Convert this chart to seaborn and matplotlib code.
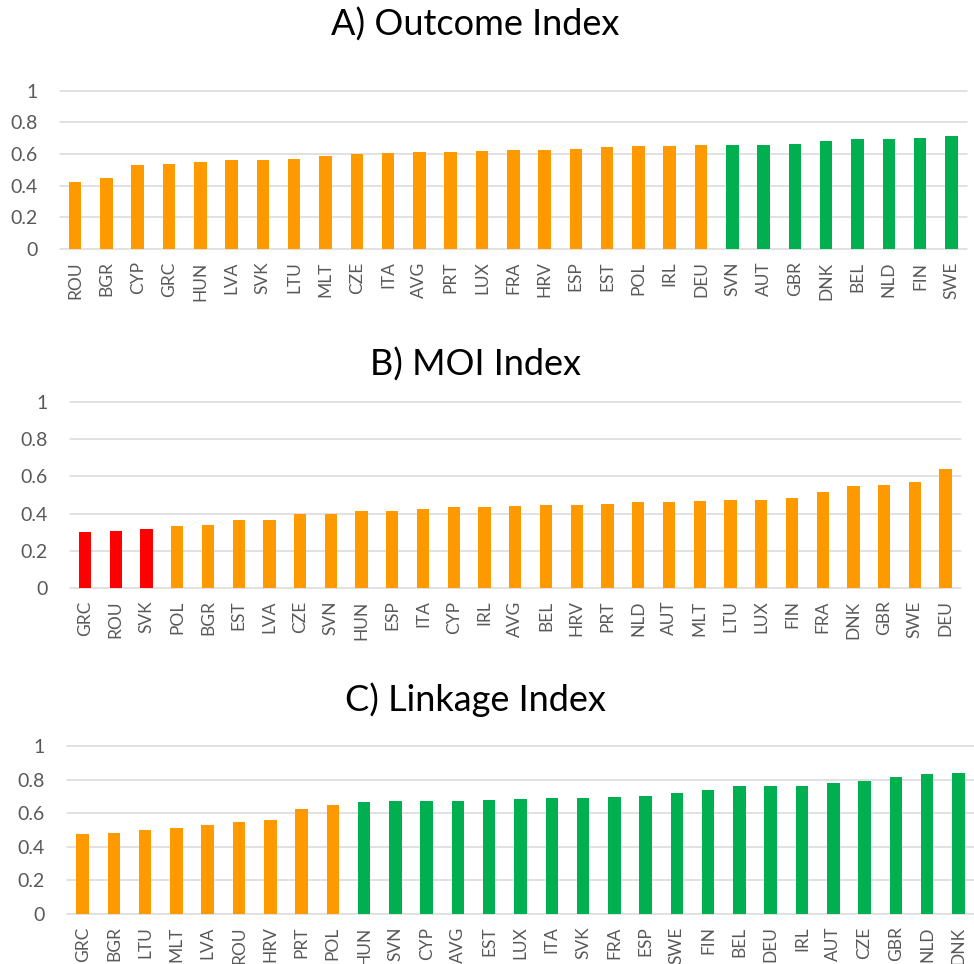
import matplotlib
matplotlib.use("Agg")
import matplotlib.pyplot as plt
import seaborn as sns
import pandas as pd

sns.set_theme(style="white")
plt.rcParams['font.family'] = ['Lato', 'DejaVu Sans']

# ---------------- data ----------------
outcome_countries = ["ROU", "BGR", "CYP", "GRC", "HUN", "LVA", "SVK", "LTU", "MLT", "CZE",
                     "ITA", "AVG", "PRT", "LUX", "FRA", "HRV", "ESP", "EST", "POL", "IRL",
                     "DEU", "SVN", "AUT", "GBR", "DNK", "BEL", "NLD", "FIN", "SWE"]
outcome_values = [0.425, 0.446, 0.528, 0.539, 0.549, 0.562, 0.564, 0.568, 0.589, 0.598,
                  0.606, 0.613, 0.613, 0.621, 0.623, 0.627, 0.634, 0.644, 0.648, 0.651,
                  0.657, 0.659, 0.659, 0.663, 0.680, 0.693, 0.693, 0.699, 0.712]
outcome_tier = ["mid"] * 21 + ["high"] * 8

moi_countries = ["GRC", "ROU", "SVK", "POL", "BGR", "EST", "LVA", "CZE", "SVN", "HUN",
                 "ESP", "ITA", "CYP", "IRL", "AVG", "BEL", "HRV", "PRT", "NLD", "AUT",
                 "MLT", "LTU", "LUX", "FIN", "FRA", "DNK", "GBR", "SWE", "DEU"]
moi_values = [0.299, 0.306, 0.315, 0.335, 0.341, 0.364, 0.366, 0.398, 0.400, 0.412,
              0.416, 0.423, 0.434, 0.435, 0.439, 0.446, 0.448, 0.452, 0.461, 0.464,
              0.468, 0.475, 0.475, 0.482, 0.518, 0.548, 0.552, 0.570, 0.638]
moi_tier = ["low"] * 3 + ["mid"] * 26

linkage_countries = ["GRC", "BGR", "LTU", "MLT", "LVA", "ROU", "HRV", "PRT", "POL", "HUN",
                     "SVN", "CYP", "AVG", "EST", "LUX", "ITA", "SVK", "FRA", "ESP", "SWE",
                     "FIN", "BEL", "DEU", "IRL", "AUT", "CZE", "GBR", "NLD", "DNK"]
linkage_values = [0.476, 0.482, 0.500, 0.512, 0.530, 0.548, 0.562, 0.627, 0.649, 0.665,
                  0.671, 0.671, 0.673, 0.681, 0.687, 0.688, 0.692, 0.694, 0.702, 0.720,
                  0.738, 0.764, 0.764, 0.764, 0.782, 0.792, 0.813, 0.835, 0.837]
linkage_tier = ["mid"] * 9 + ["high"] * 20

titles = ["A) Outcome Index", "B) MOI Index", "C) Linkage Index"]
y_ticks = [0, 0.2, 0.4, 0.6, 0.8, 1.0]
y_tick_labels = ["0", "0.2", "0.4", "0.6", "0.8", "1"]

palette = {"low": "#FF0000", "mid": "#FF9900", "high": "#00B050"}

# ---------------- layout ----------------
W, H = 974, 964
fig = plt.figure(figsize=(W / 100, H / 100), dpi=100)

# (left px, right px, top px, bottom px) for each panel's plotting area
rects_px = [(59.5, 967, 90.7, 249),
            (69.6, 961, 402, 588),
            (67, 974, 746, 914)]
title_y_px = [25, 365, 700]

panels = [(outcome_countries, outcome_values, outcome_tier),
          (moi_countries, moi_values, moi_tier),
          (linkage_countries, linkage_values, linkage_tier)]

for (cats, vals, tiers), (l, r, t, b), title, ty in zip(panels, rects_px, titles, title_y_px):
    ax = fig.add_axes([l / W, 1 - b / H, (r - l) / W, (b - t) / H])
    df = pd.DataFrame({"country": cats, "value": vals, "tier": tiers})
    sns.barplot(data=df, x="country", y="value", hue="tier", palette=palette,
                order=cats, dodge=False, width=0.4, legend=False, ax=ax,
                saturation=1, linewidth=0)
    ax.set_ylim(0, 1.0)
    ax.set_xlim(-0.5, len(cats) - 0.5)
    ax.set_yticks(y_ticks)
    ax.set_yticklabels(y_tick_labels)
    ax.set_xlabel("")
    ax.set_ylabel("")
    for s in ax.spines.values():
        s.set_visible(False)
    ax.yaxis.grid(True, color="#D9D9D9", linewidth=1.1)
    ax.set_axisbelow(True)
    for gl in ax.get_ygridlines():
        gl.set_clip_on(False)
    ax.tick_params(axis="y", length=0, pad=16, labelsize=14, labelcolor="#595959")
    ax.tick_params(axis="x", length=0, pad=9, labelsize=12.5, labelcolor="#595959",
                   labelrotation=90)
    fig.text(475 / W, 1 - ty / H, title, ha="center", va="center",
             fontsize=26, color="black")

fig.savefig("out.png", dpi=100)
